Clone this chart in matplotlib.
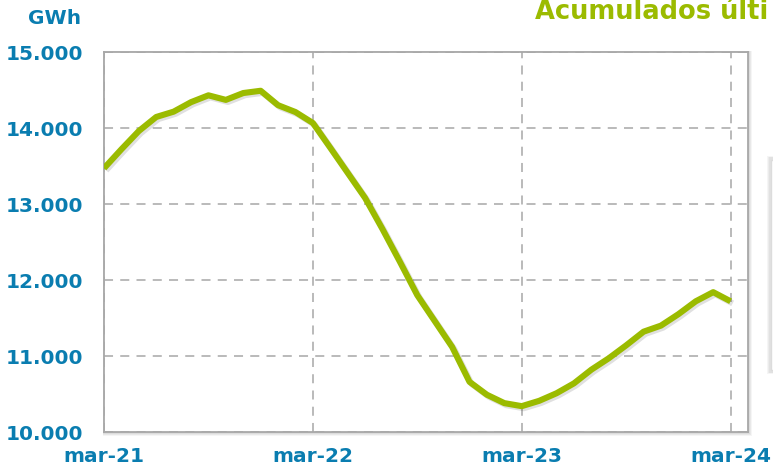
import matplotlib
matplotlib.use("Agg")
import matplotlib.pyplot as plt
import matplotlib.patheffects as pe
from matplotlib.patches import Rectangle

# ---- data ----
months = list(range(37))  # mar-21 .. mar-24
values = [13470, 13720, 13960, 14145, 14215, 14340, 14430, 14370, 14460, 14490,
          14300, 14210, 14066, 13740, 13410, 13080, 12670, 12240, 11800, 11460,
          11120, 10660, 10490, 10380, 10340, 10410, 10510, 10640, 10820, 10970,
          11140, 11320, 11400, 11550, 11720, 11840, 11720]
xtick_pos = [0, 12, 24, 36]
xtick_labels = ["mar-21", "mar-22", "mar-23", "mar-24"]
ytick_vals = [10000, 11000, 12000, 13000, 14000, 15000]
ytick_labels = ["10.000", "11.000", "12.000", "13.000", "14.000", "15.000"]
title = "Acumulados últi"
unit = "GWh"

BLUE = "#0a7db0"
GREEN = "#9bbb00"
GRID = "#b4b4b4"

fig = plt.figure(figsize=(7.73, 4.68), dpi=100)
fig.patch.set_facecolor("white")

L, R, B, T = 104/773, 748/773, 1-432/468, 1-52/468
# soft shadow around plot frame
for i, a in enumerate([0.05, 0.05, 0.05, 0.04]):
    d = (i + 1) / 773
    dy = (i + 1) / 468
    fig.patches.append(Rectangle((L - d*0.3, B - dy), (R - L) + d*1.3, (T - B) + dy*1.3,
                                 transform=fig.transFigure, facecolor="black", alpha=a,
                                 edgecolor="none", zorder=0))
# partial legend box at right edge
for i, a in enumerate([0.04, 0.04, 0.04]):
    d = (i + 1) / 773
    fig.patches.append(Rectangle((770/773 - d, 1-372/468 - d), 0.1, (372-158)/468 + 2*d,
                                 transform=fig.transFigure, facecolor="black", alpha=a,
                                 edgecolor="none", zorder=0))
fig.patches.append(Rectangle((771/773, 1-370/468), 0.1, (370-160)/468,
                             transform=fig.transFigure, facecolor="white",
                             edgecolor="#dcdcdc", lw=1, zorder=1))

ax = fig.add_axes([L, B, R - L, T - B])
ax.set_facecolor("white")
ax.set_zorder(2)

ax.plot(months, values, color=GREEN, lw=4.4, solid_joinstyle="round", solid_capstyle="butt",
        zorder=5,
        path_effects=[pe.SimpleLineShadow(offset=(1.5, -1.5), shadow_color="black", alpha=0.12),
                      pe.Normal()])

ax.set_xlim(0, 37)
ax.set_ylim(10000, 15000)
ax.set_xticks(xtick_pos)
ax.set_xticklabels(xtick_labels)
ax.set_yticks(ytick_vals)
ax.set_yticklabels(ytick_labels)
ax.tick_params(length=0)
for lab in ax.get_xticklabels() + ax.get_yticklabels():
    lab.set_fontweight("bold"); lab.set_color(BLUE); lab.set_fontsize(14.5)
    lab.set_fontfamily("DejaVu Sans")
ax.tick_params(axis="x", pad=10.5)
ax.tick_params(axis="y", pad=15)

ax.grid(True, color=GRID, linestyle=(0, (5, 4)), lw=1.3, zorder=1)
ax.set_axisbelow(True)
for s in ax.spines.values():
    s.set_color("#a8a8a8")
    s.set_linewidth(1.3)

fig.text(81/773, 1-19/468, unit, color=BLUE, fontsize=14.5, fontweight="bold",
         ha="right", va="center")
fig.text(535/773, 1-12/468, title, color=GREEN, fontsize=18.5, fontweight="bold",
         ha="left", va="center")

fig.savefig("out.png", dpi=100)
